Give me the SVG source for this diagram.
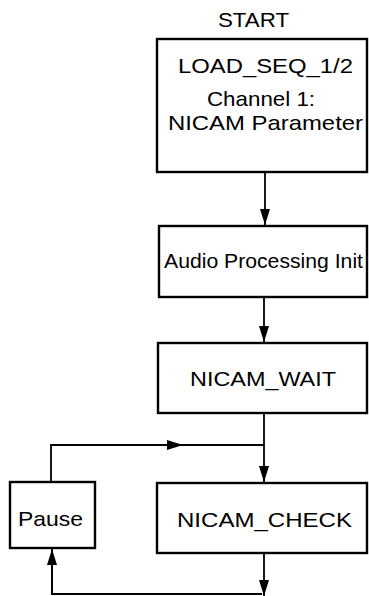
<svg xmlns="http://www.w3.org/2000/svg" width="369" height="596" viewBox="0 0 369 596">
<style>
.box{fill:#fff;stroke:#000;stroke-width:2.4}
.t{font-family:"Liberation Sans",Arial,sans-serif;font-size:21px;fill:#000}
.c{fill:none;stroke:#000;stroke-width:1.8}
</style>
<defs>
<marker id="ah" viewBox="0 0 16 10" refX="16" refY="5" markerWidth="16" markerHeight="10" markerUnits="userSpaceOnUse" orient="auto">
<path d="M0,0 L16,5 L0,10 Z" fill="#000"/>
</marker>
</defs>
<rect width="369" height="596" fill="#fff"/>
<g id="start"><text class="t" x="218" y="27" textLength="71" lengthAdjust="spacingAndGlyphs">START</text></g>
<g id="load_seq">
<rect class="box" x="157" y="39" width="210" height="133"/>
<text class="t" x="178" y="73" textLength="175" lengthAdjust="spacingAndGlyphs">LOAD_SEQ_1/2</text>
<text class="t" x="207" y="106" textLength="108" lengthAdjust="spacingAndGlyphs">Channel 1:</text>
<text class="t" x="168" y="130" textLength="195" lengthAdjust="spacingAndGlyphs">NICAM Parameter</text>
</g>
<g id="audio_init">
<rect class="box" x="159" y="226" width="208" height="71"/>
<text class="t" x="164" y="268" textLength="199" lengthAdjust="spacingAndGlyphs">Audio Processing Init</text>
</g>
<g id="nicam_wait">
<rect class="box" x="158" y="343" width="209" height="70"/>
<text class="t" x="190" y="386" textLength="146" lengthAdjust="spacingAndGlyphs">NICAM_WAIT</text>
</g>
<g id="nicam_check">
<rect class="box" x="157" y="483" width="210" height="70"/>
<text class="t" x="177" y="527" textLength="175" lengthAdjust="spacingAndGlyphs">NICAM_CHECK</text>
</g>
<g id="pause">
<rect class="box" x="10" y="482" width="85" height="66"/>
<text class="t" x="18" y="526" textLength="65" lengthAdjust="spacingAndGlyphs">Pause</text>
</g>
<g id="connectors">
<line class="c" x1="265" y1="173" x2="265" y2="225" marker-end="url(#ah)"/>
<line class="c" x1="264" y1="298" x2="264" y2="342" marker-end="url(#ah)"/>
<line class="c" x1="264" y1="414" x2="264" y2="482" marker-end="url(#ah)"/>
<polyline class="c" points="51,481 51,445 264,445"/>
<line class="c" x1="51" y1="445" x2="183" y2="445" marker-end="url(#ah)"/>
<line class="c" x1="264" y1="554" x2="264" y2="596" marker-end="url(#ah)"/>
<polyline class="c" points="262,594 52,594 52,549"/>
<line class="c" x1="52" y1="594" x2="52" y2="549" marker-end="url(#ah)"/>
</g>
</svg>
